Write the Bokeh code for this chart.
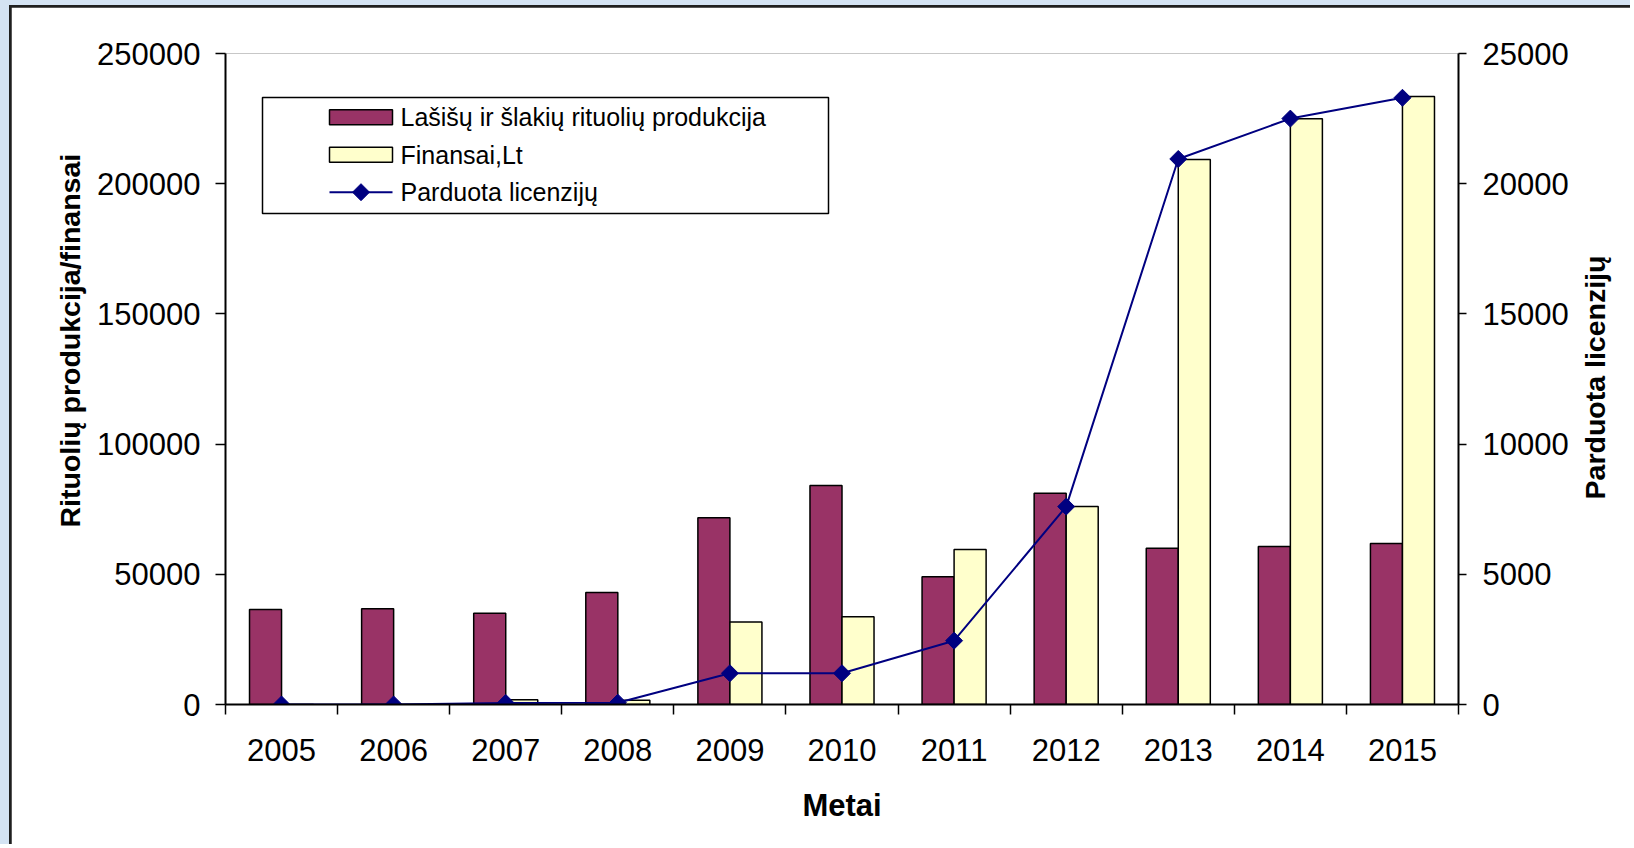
import numpy as np
from bokeh.plotting import figure
from bokeh.layouts import column
from bokeh.models import (Range1d, LinearAxis, FixedTicker, NumeralTickFormatter,
                          ColumnDataSource, Label, BoxAnnotation, PolyAnnotation, Title)
from bokeh.transform import dodge
from bokeh.embed import file_html
from bokeh.resources import INLINE

# ---- data ----
years = ["2005", "2006", "2007", "2008", "2009", "2010", "2011", "2012", "2013", "2014", "2015"]
production = [36500, 36800, 35000, 43000, 71700, 84100, 49100, 81100, 60000, 60700, 61800]
finance = [0, 0, 1800, 1600, 31700, 33700, 59500, 76000, 209300, 224900, 233500]
licenses = [0, 0, 60, 70, 1200, 1200, 2450, 7600, 20950, 22500, 23300]

left_ticks = [0, 50000, 100000, 150000, 200000, 250000]
right_ticks = [0, 5000, 10000, 15000, 20000, 25000]

series_names = ["Lašišų ir šlakių rituolių produkcija", "Finansai,Lt", "Parduota licenzijų"]
x_title = "Metai"
y_left_title = "Rituolių produkcija/finansai"
y_right_title = "Parduota licenzijų"

PURPLE = "#993366"
YELLOW = "#FFFFCC"
NAVY = "#000080"
PAGE_BLUE = "#D4E3F3"
BORDER = "#1F1F1F"
FONT = "Liberation Sans"

# page geometry (page pixel coordinates)
OX, OY = 11, 7                 # blue strip + chart border before the canvas starts
PAGE_W, PAGE_H = 1630, 844
FRAME_L, FRAME_T, FRAME_R, FRAME_B = 225, 53, 1458, 704

W, H = PAGE_W - OX, PAGE_H - OY

idx = np.arange(len(years))
src = ColumnDataSource(dict(x=idx, prod=production, fin=finance, lic=licenses))

fig = figure(width=W, height=H, output_backend="svg", toolbar_location=None,
             x_range=Range1d(-0.5, len(years) - 0.5), y_range=Range1d(0, 250000),
             min_border_left=FRAME_L - OX, min_border_right=W - (FRAME_R - OX),
             min_border_top=FRAME_T - OY, min_border_bottom=H - (FRAME_B - OY),
             x_axis_type=None, y_axis_type=None)
fig.extra_y_ranges = {"lic": Range1d(0, 25000)}
fig.outline_line_color = None
fig.background_fill_color = "white"
fig.border_fill_color = "white"

bw = 32 / 112
fig.vbar(x=dodge("x", -bw / 2, range=fig.x_range), top="prod", width=bw, bottom=0, source=src,
         fill_color=PURPLE, line_color="black", line_width=1.5)
fig.vbar(x=dodge("x", bw / 2, range=fig.x_range), top="fin", width=bw, bottom=0, source=src,
         fill_color=YELLOW, line_color="black", line_width=1.5)
fig.line(x="x", y="lic", source=src, y_range_name="lic", line_color=NAVY, line_width=2)
fig.scatter(x="x", y="lic", source=src, y_range_name="lic", marker="square", angle=np.pi / 4,
            size=12, fill_color=NAVY, line_color=NAVY)


def style_axis(ax, tick_out, standoff):
    ax.axis_line_color = "black"
    ax.axis_line_width = 2
    ax.major_tick_line_color = "black"
    ax.major_tick_line_width = 1.5
    ax.major_tick_in = 0
    ax.major_tick_out = tick_out
    ax.minor_tick_line_color = None
    ax.major_label_text_font = FONT
    ax.major_label_text_font_size = "31px"
    ax.major_label_text_color = "black"
    ax.major_label_standoff = standoff
    ax.axis_label_text_font = FONT
    ax.axis_label_text_font_style = "bold"
    ax.axis_label_text_color = "black"


# left axis
yl = LinearAxis(ticker=FixedTicker(ticks=left_ticks), formatter=NumeralTickFormatter(format="0"))
style_axis(yl, 10, 15)
fig.add_layout(yl, "left")

# left title (placed off-centre, like the original)
fig.add_layout(Title(text=y_left_title, align="left", offset=177, vertical_align="bottom", standoff=18,
                     text_font=FONT, text_font_size="28.5px", text_font_style="bold", text_color="black"),
               "left")

# right axis
yr = LinearAxis(y_range_name="lic", ticker=FixedTicker(ticks=right_ticks),
                formatter=NumeralTickFormatter(format="0"))
style_axis(yr, 8, 16)
fig.add_layout(yr, "right")

# right title: a label in its own side panel, reading bottom-to-top
fig.add_layout(Label(x=23, y=FRAME_B - 377, x_units="screen", y_units="screen", text=y_right_title,
                     angle=np.pi / 2, text_align="center", text_baseline="middle",
                     text_font=FONT, text_font_size="28.5px", text_font_style="bold", text_color="black"),
               "right")

# bottom axis: labels at centres, ticks at category boundaries
xa = LinearAxis(ticker=FixedTicker(ticks=list(idx), minor_ticks=list(np.arange(len(years) + 1) - 0.5)),
                major_label_overrides={int(i): y for i, y in zip(idx, years)}, axis_label=x_title)
style_axis(xa, 0, 24)
xa.minor_tick_line_color = "black"
xa.minor_tick_line_width = 1.5
xa.minor_tick_in = 0
xa.minor_tick_out = 10
xa.axis_label_text_font_size = "31px"
xa.axis_label_standoff = 24
fig.add_layout(xa, "below")

# top plot-area border (grey line at 250000)
fig.ygrid.ticker = FixedTicker(ticks=[250000])
fig.ygrid.grid_line_color = "#808080"
fig.ygrid.grid_line_width = 2
fig.xgrid.grid_line_color = None


def sx(px):
    return px - FRAME_L


def sy(py):
    return FRAME_B - py


def box(l, t, r, b, fill, line="black", lw=1.5):
    return BoxAnnotation(left=sx(l), right=sx(r), top=sy(t), bottom=sy(b),
                         left_units="screen", right_units="screen", top_units="screen", bottom_units="screen",
                         fill_color=fill, fill_alpha=1, line_color=line, line_alpha=1 if line else 0,
                         line_width=lw, level="overlay")


# legend (manual, page coordinates)
fig.add_layout(box(262, 97, 828, 213, "white"))
rows = [116.7, 154.2, 191.7]
fig.add_layout(box(329, rows[0] - 7.5, 392, rows[0] + 7.5, PURPLE))
fig.add_layout(box(329, rows[1] - 7.5, 392, rows[1] + 7.5, YELLOW))
fig.add_layout(box(329, rows[2] - 1, 392, rows[2] + 1, NAVY, line=None, lw=0))
cx, cy, r = 360.5, rows[2], 8.5
fig.add_layout(PolyAnnotation(xs=[sx(cx - r), sx(cx), sx(cx + r), sx(cx)],
                              ys=[sy(cy), sy(cy - r), sy(cy), sy(cy + r)],
                              xs_units="screen", ys_units="screen",
                              fill_color=NAVY, fill_alpha=1, line_color=NAVY, line_alpha=1, level="overlay"))
for name, ry in zip(series_names, rows):
    fig.add_layout(Label(x=sx(400), y=sy(ry), x_units="screen", y_units="screen", text=name,
                         text_align="left", text_baseline="middle", text_font=FONT,
                         text_font_size="25px", text_color="black", level="overlay"))

# chart frame: dark border on the left/top, light-blue page strip outside it
inner = column(fig, styles={"background-color": BORDER, "padding-left": "2px", "padding-top": "2px"})
p = column(inner, styles={"background-color": PAGE_BLUE, "padding-left": "9px", "padding-top": "5px"})

open("out.html", "w").write(file_html(p, INLINE))
